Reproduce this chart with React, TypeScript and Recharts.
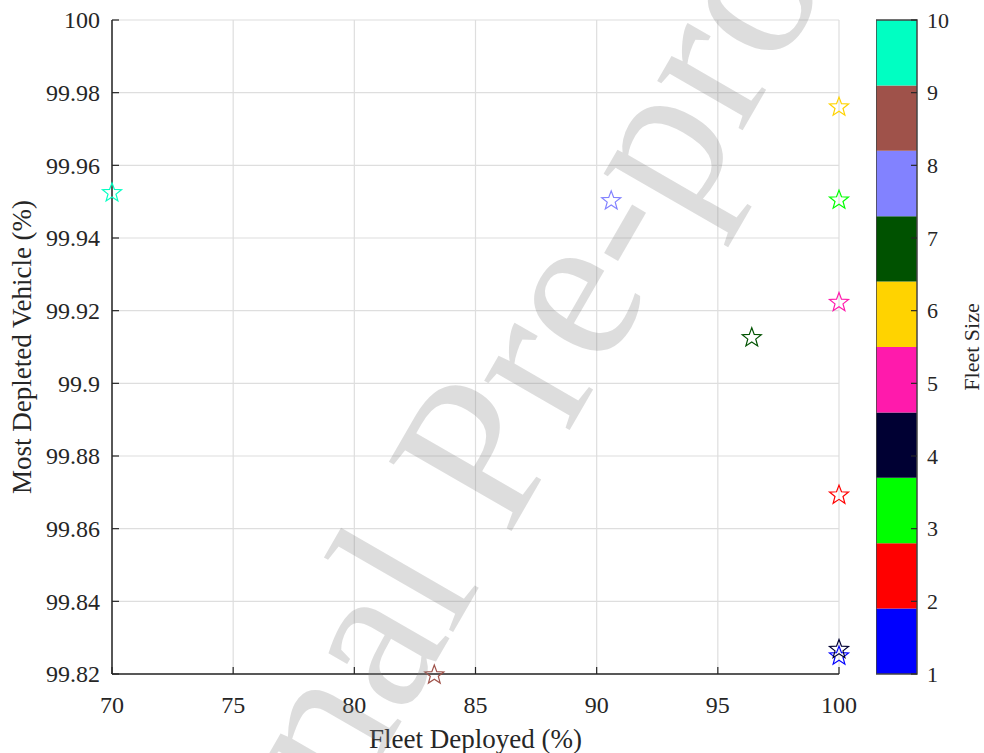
import React from "react";
import {
  ScatterChart,
  Scatter,
  XAxis,
  YAxis,
  CartesianGrid,
  ComposedChart,
  ReferenceArea,
} from "recharts";

// fleet size of each run, and where it landed
const fleetSizes = [1, 2, 3, 4, 5, 6, 7, 8, 9, 10];
const fleetDeployed = [100, 100, 100, 100, 100, 100, 96.4, 90.6, 83.3, 70];
const mostDepleted = [
  99.8252, 99.8695, 99.9507, 99.827, 99.9225, 99.9763, 99.9128, 99.9505,
  99.82, 99.9527,
];

const xTicks = [70, 75, 80, 85, 90, 95, 100];
const yTicks = [99.82, 99.84, 99.86, 99.88, 99.9, 99.92, 99.94, 99.96, 99.98, 100];

// colormap (one colour per fleet size)
const sizeColors = [
  "#0000ff",
  "#ff0000",
  "#00ff00",
  "#000033",
  "#ff1aac",
  "#ffd300",
  "#005200",
  "#8282ff",
  "#9f524a",
  "#00ffc2",
];
const cbEdges = [1, 1.9, 2.8, 3.7, 4.6, 5.5, 6.4, 7.3, 8.2, 9.1, 10];
const cbTicks = [1, 2, 3, 4, 5, 6, 7, 8, 9, 10];
// just the two corners, so the colorbar axes get a domain
const cbExtent = [
  { x: 0, y: 1 },
  { x: 1, y: 10 },
];

const FONT = "'Liberation Serif', 'Times New Roman', serif";
const INK = "#262626";

const points = fleetSizes.map((s, i) => ({
  size: s,
  x: fleetDeployed[i],
  y: mostDepleted[i],
  color: sizeColors[s - 1],
}));

const starPath = (cx: number, cy: number, r: number) => {
  const inner = r * 0.42;
  let d = "";
  for (let k = 0; k < 10; k++) {
    const rad = k % 2 === 0 ? r : inner;
    const a = -Math.PI / 2 + (k * Math.PI) / 5;
    d += `${k === 0 ? "M" : "L"}${cx + rad * Math.cos(a)},${cy + rad * Math.sin(a)}`;
  }
  return d + "Z";
};

const Star = (props: any) => {
  const { cx, cy, payload } = props;
  return (
    <path
      d={starPath(cx, cy + 1, 10)}
      fill="none"
      stroke={payload.color}
      strokeWidth={1.2}
    />
  );
};

const Nothing = () => <g />;

const YTick = ({ x, y, payload }: any) => (
  <g>
    <line x1={x + 12} x2={x + 19} y1={y} y2={y} stroke={INK} strokeWidth={1.2} />
    <text x={x} y={y} dy="0.35em" textAnchor="end" fill={INK} fontSize={24} fontFamily={FONT}>
      {String(Number(payload.value.toFixed(2)))}
    </text>
  </g>
);

const XTick = ({ x, y, payload }: any) => (
  <g>
    <line x1={x} x2={x} y1={y - 12} y2={y - 19} stroke={INK} strokeWidth={1.2} />
    <text x={x} y={y + 27} textAnchor="middle" fill={INK} fontSize={24} fontFamily={FONT}>
      {payload.value}
    </text>
  </g>
);

const CbTick = ({ x, y, payload }: any) => (
  <g>
    <line x1={x - 10} x2={x - 16} y1={y} y2={y} stroke={INK} strokeWidth={1.2} />
    <text x={x} y={y} dy="0.35em" textAnchor="start" fill={INK} fontSize={22} fontFamily={FONT}>
      {payload.value}
    </text>
  </g>
);

export default function App() {
  return (
    <div
      style={{
        position: "absolute",
        left: 0,
        top: 0,
        width: 984,
        height: 753,
        background: "#fff",
        overflow: "hidden",
        fontFamily: FONT,
      }}
    >
      <div style={{ position: "absolute", left: 0, top: 0 }}>
        <ScatterChart
          width={984}
          height={753}
          margin={{ top: 20, right: 145, bottom: 0, left: 0 }}
        >
          <CartesianGrid stroke="#dedede" strokeWidth={1.2} />
          <XAxis
            type="number"
            dataKey="x"
            domain={[70, 100]}
            ticks={xTicks}
            interval={0}
            height={79}
            tickSize={0}
            tickLine={false}
            tickMargin={12}
            tick={<XTick />}
            axisLine={{ stroke: INK, strokeWidth: 1.5 }}
            label={{
              value: "Fleet Deployed (%)",
              position: "insideBottom",
              offset: 5,
              fill: INK,
              fontSize: 27,
              fontFamily: FONT,
            }}
          />
          <YAxis
            type="number"
            dataKey="y"
            domain={[99.82, 100]}
            ticks={yTicks}
            interval={0}
            width={112}
            tickSize={0}
            tickLine={false}
            tickMargin={12}
            tick={<YTick />}
            axisLine={{ stroke: INK, strokeWidth: 1.5 }}
            label={{
              content: ({ viewBox }: any) => {
                const cy = viewBox.y + viewBox.height / 2;
                return (
                  <text
                    x={22}
                    y={cy}
                    transform={`rotate(-90, 22, ${cy})`}
                    textAnchor="middle"
                    dominantBaseline="central"
                    fill={INK}
                    fontSize={27}
                    fontFamily={FONT}
                  >
                    Most Depleted Vehicle (%)
                  </text>
                );
              },
            }}
          />
          <Scatter data={points} shape={<Star />} isAnimationActive={false} />
        </ScatterChart>
      </div>

      <div style={{ position: "absolute", left: 876, top: 0 }}>
        <ComposedChart
          width={108}
          height={753}
          margin={{ top: 20, right: 0, bottom: 79, left: 0 }}
        >
          <XAxis type="number" dataKey="x" domain={[0, 1]} hide height={0} />
          <YAxis
            type="number"
            dataKey="y"
            orientation="right"
            domain={[1, 10]}
            ticks={cbTicks}
            interval={0}
            width={67}
            tickSize={0}
            tickLine={false}
            tickMargin={10}
            tick={<CbTick />}
            axisLine={false}
            label={{
              content: ({ viewBox }: any) => {
                const cx = viewBox.x + 54;
                const cy = viewBox.y + viewBox.height / 2;
                return (
                  <text
                    x={cx}
                    y={cy}
                    transform={`rotate(-90, ${cx}, ${cy})`}
                    textAnchor="middle"
                    dominantBaseline="central"
                    fill={INK}
                    fontSize={22}
                    fontFamily={FONT}
                  >
                    Fleet Size
                  </text>
                );
              },
            }}
          />
          {sizeColors.map((c, i) => (
            <ReferenceArea
              key={c}
              x1={0}
              x2={1}
              y1={cbEdges[i]}
              y2={cbEdges[i + 1]}
              fill={c}
              fillOpacity={1}
              stroke="none"
              ifOverflow="visible"
            />
          ))}
          <ReferenceArea
            x1={0}
            x2={1}
            y1={1}
            y2={10}
            fill="none"
            stroke="#444"
            strokeWidth={1.5}
            ifOverflow="visible"
          />
          <Scatter data={cbExtent} shape={<Nothing />} isAnimationActive={false} />
        </ComposedChart>
      </div>

      {/* watermark */}
      <svg
        width={984}
        height={753}
        style={{ position: "absolute", left: 0, top: 0, pointerEvents: "none" }}
      >
        <text
          x={542}
          y={478}
          transform="rotate(-60, 542, 478)"
          textAnchor="middle"
          fontSize={215}
          fontFamily={FONT}
          fill="#808080"
          fillOpacity={0.27}
        >
          Journal Pre-proof
        </text>
      </svg>
    </div>
  );
}
